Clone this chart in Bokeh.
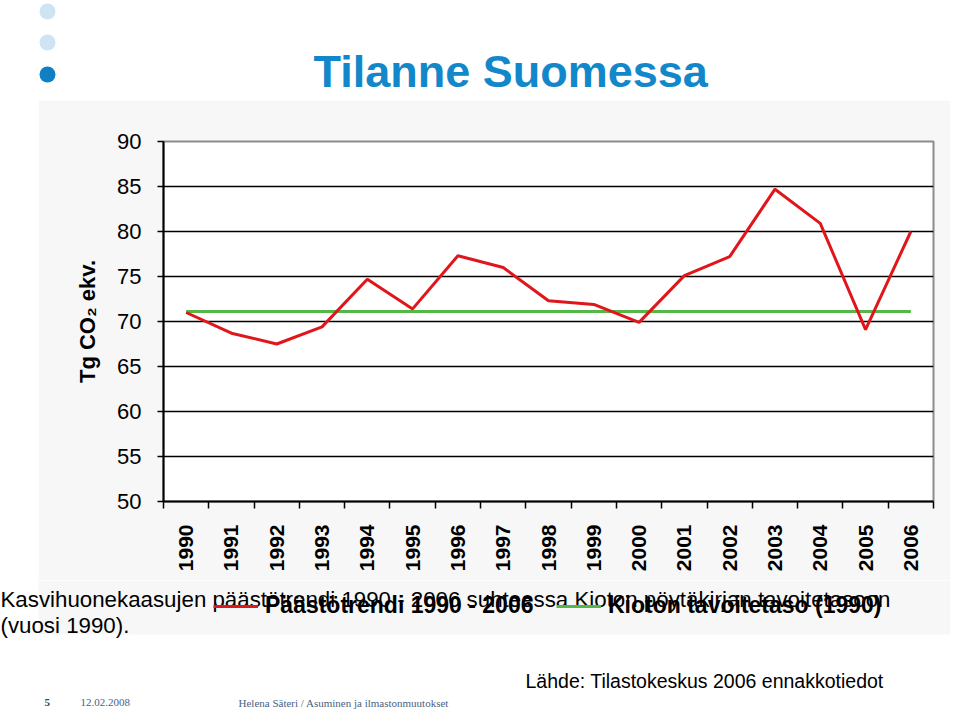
import numpy as np
from bokeh.plotting import figure
from bokeh.layouts import column, row
from bokeh.models import Label, BoxAnnotation, Legend, LegendItem, FixedTicker, Range1d, Spacer
from bokeh.embed import file_html
from bokeh.resources import INLINE

# ---- data ----
years = [1990, 1991, 1992, 1993, 1994, 1995, 1996, 1997, 1998, 1999,
         2000, 2001, 2002, 2003, 2004, 2005, 2006]
paastot = [71.0, 68.7, 67.5, 69.4, 74.7, 71.4, 77.3, 76.0, 72.3, 71.9,
           69.9, 75.1, 77.2, 84.7, 80.9, 69.1, 80.0]
kioto_taso = 71.1
y_ticks = [50, 55, 60, 65, 70, 75, 80, 85, 90]
series_names = ["Päästötrendi 1990 - 2006", "Kioton tavoitetaso (1990)"]

title_text = "Tilanne Suomessa"
caption_1 = "Kasvihuonekaasujen päästötrendi 1990 - 2006 suhteessa Kioton pöytäkirjan tavoitetasoon"
caption_2 = "(vuosi 1990)."
source_text = "Lähde: Tilastokeskus 2006 ennakkotiedot"
footer_num = "5"
footer_date = "12.02.2008"
footer_text = "Helena Säteri / Asuminen ja ilmastonmuutokset"

FONT = "Liberation Sans"
RED = "#e0161b"
GREEN = "#55b748"
GREY_BG = "#f7f7f7"
W = 960


def strip(height, top):
    """A full-canvas figure whose data units are page pixels."""
    f = figure(width=W, height=height, x_range=Range1d(0, W),
               y_range=Range1d(top + height, top),
               x_axis_type=None, y_axis_type=None,
               output_backend="svg", toolbar_location=None,
               min_border=0, min_border_left=0, min_border_right=0,
               min_border_top=0, min_border_bottom=0)
    f.outline_line_color = None
    f.border_fill_color = "white"
    f.background_fill_color = "white"
    return f


def lab(f, text, px, baseline, size, color="black", style="normal", font=FONT):
    # place by vertical middle of the em box (baseline - 0.3465 * size)
    f.add_layout(Label(x=px, y=baseline - 0.3465 * size, text=text, text_font=font,
                       text_font_size=f"{size}px", text_font_style=style,
                       text_color=color, text_baseline="middle", text_align="left"))


# ---------------- top strip: bullets + title ----------------
top = strip(100, 0)
top.scatter([47, 47, 47], [11, 42, 74], size=16, marker="circle",
            fill_color=["#cfe4f3", "#cfe4f3", "#0f80c6"], line_alpha=0)
lab(top, title_text, 313, 87, 45, color="#1287c9", style="bold")

# ---------------- main chart ----------------
p = figure(width=912, height=480,
           x_range=Range1d(years[0] - 0.5, years[-1] + 0.5),
           y_range=Range1d(y_ticks[0], y_ticks[-1]),
           output_backend="svg", toolbar_location=None,
           min_border_left=125, min_border_right=17,
           min_border_top=41, min_border_bottom=79)
p.border_fill_color = GREY_BG
p.background_fill_color = "white"
p.outline_line_color = "#8c8c8c"
p.outline_line_width = 2

bounds = [y - 0.5 for y in years] + [years[-1] + 0.5]
p.xaxis.ticker = FixedTicker(ticks=years, minor_ticks=bounds)
p.xaxis.major_label_overrides = {y: str(y) for y in years}
p.xaxis.major_label_orientation = 1.5708
p.xaxis.major_tick_out = 0
p.xaxis.major_tick_in = 0
p.xaxis.minor_tick_out = 7
p.xaxis.minor_tick_in = 0
p.xaxis.minor_tick_line_color = "black"
p.xaxis.minor_tick_line_width = 1.5
p.xaxis.major_label_standoff = 16
p.xaxis.major_label_text_font = FONT
p.xaxis.major_label_text_font_style = "bold"
p.xaxis.major_label_text_font_size = "21px"
p.xaxis.major_label_text_color = "black"
p.xaxis.axis_line_color = "black"
p.xaxis.axis_line_width = 2

p.yaxis.ticker = FixedTicker(ticks=y_ticks, minor_ticks=[])
p.yaxis.major_tick_out = 6
p.yaxis.major_tick_in = 0
p.yaxis.major_tick_line_color = "black"
p.yaxis.major_tick_line_width = 1.5
p.yaxis.major_label_standoff = 16
p.yaxis.major_label_text_font = FONT
p.yaxis.major_label_text_font_size = "22px"
p.yaxis.major_label_text_color = "black"
p.yaxis.axis_line_color = "black"
p.yaxis.axis_line_width = 2
p.yaxis.axis_label = "Tg CO\u2082 ekv."
p.yaxis.axis_label_text_font = FONT
p.yaxis.axis_label_text_font_style = "bold"
p.yaxis.axis_label_text_font_size = "22px"
p.yaxis.axis_label_text_color = "black"
p.yaxis.axis_label_standoff = 14

p.xgrid.visible = False
p.ygrid.ticker = FixedTicker(ticks=y_ticks)
p.ygrid.grid_line_color = "black"
p.ygrid.grid_line_width = 1.5

p.line([years[0], years[-1]], [kioto_taso, kioto_taso], line_color=GREEN, line_width=3)
p.line(years, paastot, line_color=RED, line_width=3)

main_row = row(Spacer(width=38, height=480), p, Spacer(width=10, height=480))

# ---------------- bottom strip: caption, legend, source, footer ----------------
bot = strip(131, 580)
bot.add_layout(BoxAnnotation(left=38, right=950, top=580, bottom=634,
                             fill_color=GREY_BG, fill_alpha=1, line_alpha=0,
                             level="underlay"))
lab(bot, caption_1, 0, 607, 22.3)
lab(bot, caption_2, 0, 633, 22.3)

# legend swatches carry the series' styles (renderers with no drawable points)
nan2 = np.full(2, np.nan)
lr = bot.line(x=nan2, y=nan2, line_color=RED, line_width=3)
lg = bot.line(x=nan2, y=nan2, line_color=GREEN, line_width=3)
legend = Legend(items=[LegendItem(label=series_names[0], renderers=[lr]),
                       LegendItem(label=series_names[1], renderers=[lg])],
                location=(213, 92), orientation="horizontal",
                margin=0, padding=0, spacing=16,
                glyph_width=45, glyph_height=22, label_height=22, label_width=275,
                label_standoff=7,
                label_text_font=FONT, label_text_font_style="bold",
                label_text_font_size="23px", label_text_color="black",
                border_line_alpha=0, background_fill_alpha=0)
bot.add_layout(legend)

lab(bot, source_text, 525, 687, 19.5)
lab(bot, footer_num, 44, 706, 11, color="#2d4a6a", style="bold", font="Liberation Serif")
lab(bot, footer_date, 80, 706, 11, color="#4a6282", font="Liberation Serif")
lab(bot, footer_text, 238, 706, 11, color="#4a6282", font="Liberation Serif")

layout = column(top, main_row, bot, spacing=0)
open("out.html", "w").write(file_html(layout, INLINE))
